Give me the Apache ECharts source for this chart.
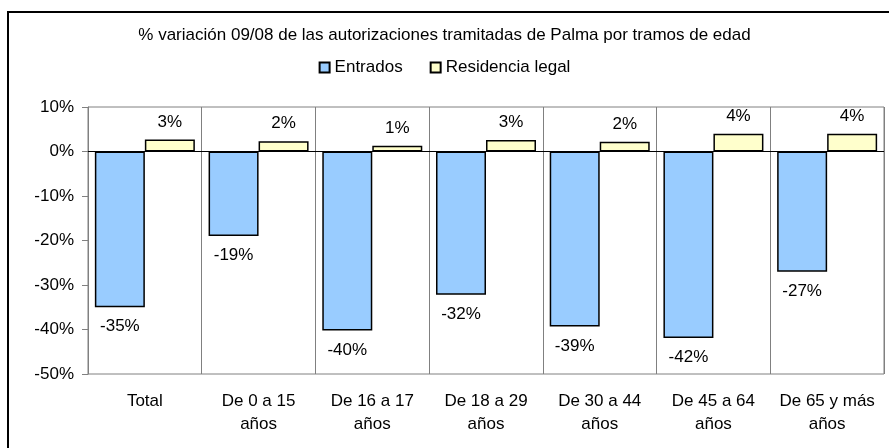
<!DOCTYPE html>
<html>
<head>
<meta charset="utf-8">
<script src="https://cdn.jsdelivr.net/npm/echarts@6/dist/echarts.min.js"></script>
<style>
  html, body { margin: 0; padding: 0; background: #fff; }
  #chart { width: 889px; height: 448px; }
</style>
</head>
<body>
<div id="chart"></div>
<script>
// data
const categories = ['Total', 'De 0 a 15\naños', 'De 16 a 17\naños', 'De 18 a 29\naños', 'De 30 a 44\naños', 'De 45 a 64\naños', 'De 65 y más\naños'];
const entrados = [-35, -19, -40.2, -32.2, -39.3, -41.9, -27];
const residencia = [2.7, 2.3, 1.3, 2.6, 2.2, 4.0, 4.0];
const yTicks = { min: -50, max: 10, interval: 10 };

const font = 'Liberation Sans, Arial, sans-serif';
const pct = (p) => Math.round(p.value) + '%';

const myChart = echarts.init(document.getElementById('chart'));

myChart.setOption({
  animation: false,
  textStyle: { fontFamily: font, color: '#000' },
  title: {
    text: '% variación 09/08 de las autorizaciones tramitadas de Palma por tramos de edad',
    left: 'center',
    top: 22,
    textStyle: { fontFamily: font, fontSize: 17, fontWeight: 'normal', color: '#000' }
  },
  legend: {
    top: 54,
    left: 'center',
    itemWidth: 10,
    itemHeight: 10,
    itemGap: 27,
    icon: 'rect',
    textStyle: { fontFamily: font, fontSize: 17, color: '#000' },
    data: ['Entrados', 'Residencia legal']
  },
  grid: {
    left: 88,
    right: 5,
    top: 107,
    bottom: 74,
    show: true,
    borderColor: '#808080',
    borderWidth: 1
  },
  graphic: [{
    type: 'rect',
    shape: { x: 8, y: 12, width: 900, height: 460 },
    style: { fill: 'none', stroke: '#000', lineWidth: 2 },
    silent: true
  }],
  xAxis: {
    type: 'category',
    data: categories,
    axisLine: { show: false },
    axisTick: { show: false },
    splitLine: { show: true, interval: 0, lineStyle: { color: '#808080', width: 1 } },
    axisLabel: {
      interval: 0,
      margin: 16,
      fontFamily: font,
      fontSize: 17,
      lineHeight: 23,
      color: '#000'
    }
  },
  yAxis: {
    type: 'value',
    min: yTicks.min,
    max: yTicks.max,
    interval: yTicks.interval,
    axisLine: { show: true, lineStyle: { color: '#808080' } },
    axisTick: { show: true, length: 6, lineStyle: { color: '#808080' } },
    splitLine: { show: false },
    axisLabel: {
      formatter: '{value}%',
      margin: 14,
      fontFamily: font,
      fontSize: 17,
      color: '#000'
    }
  },
  series: [
    {
      name: 'Entrados',
      type: 'bar',
      data: entrados,
      barWidth: 50,
      barGap: '0%',
      itemStyle: { color: '#99CCFF', borderColor: '#000', borderWidth: 1.5 },
      label: {
        show: true,
        position: 'bottom',
        distance: 11,
        formatter: pct,
        fontFamily: font,
        fontSize: 17,
        color: '#000'
      },
      markLine: {
        silent: true,
        symbol: 'none',
        label: { show: false },
        lineStyle: { color: '#000', type: 'solid', width: 1 },
        data: [{ yAxis: 0 }]
      }
    },
    {
      name: 'Residencia legal',
      type: 'bar',
      data: residencia,
      barWidth: 50,
      barGap: '0%',
      itemStyle: { color: '#FFFFCC', borderColor: '#000', borderWidth: 1.5 },
      label: {
        show: true,
        position: 'top',
        distance: 9,
        formatter: pct,
        fontFamily: font,
        fontSize: 17,
        color: '#000'
      }
    }
  ]
});

window.addEventListener('resize', () => {
  myChart.resize();
});
</script>
</body>
</html>
